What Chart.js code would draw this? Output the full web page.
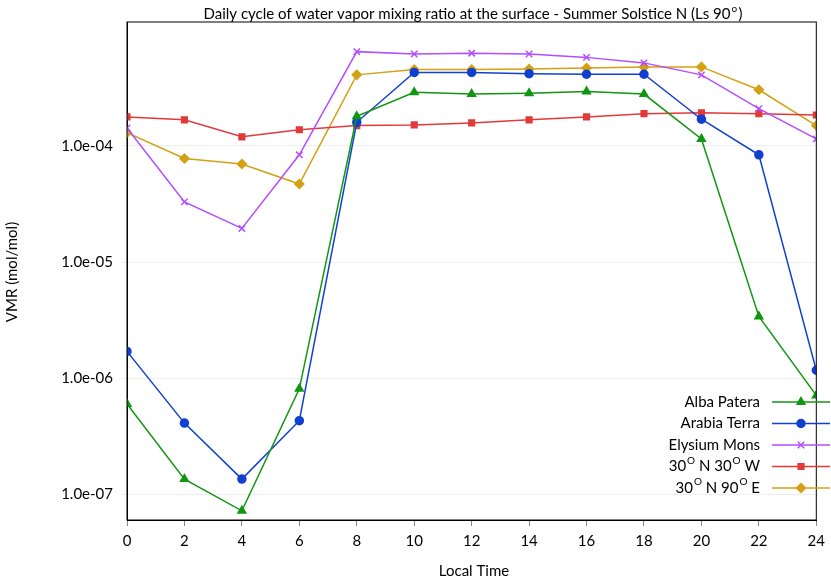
<!DOCTYPE html><html><head><meta charset="utf-8">
<script src="https://cdn.jsdelivr.net/npm/chart.js@4"></script>
<style>html,body{margin:0;padding:0;background:#fff}#w{width:831px;height:582px}</style></head>
<body><div id="w"><canvas id="c"></canvas></div><script>
const hours=[0,2,4,6,8,10,12,14,16,18,20,22,24];
const seriesNames=['Alba Patera','Arabia Terra','Elysium Mons','30| N 30| W','30| N 90| E'];
const alba=[6e-7,1.35e-7,7.2e-8,8.1e-7,1.8e-4,2.9e-4,2.8e-4,2.85e-4,2.95e-4,2.8e-4,1.15e-4,3.4e-6,7.1e-7];
const arabia=[1.7e-6,4.1e-7,1.35e-7,4.3e-7,1.6e-4,4.3e-4,4.3e-4,4.2e-4,4.15e-4,4.15e-4,1.7e-4,8.4e-5,1.17e-6];
const elysium=[1.43e-4,3.3e-5,1.95e-5,8.4e-5,6.5e-4,6.2e-4,6.3e-4,6.2e-4,5.8e-4,5.2e-4,4.1e-4,2.1e-4,1.15e-4];
const n30w30=[1.78e-4,1.68e-4,1.2e-4,1.38e-4,1.5e-4,1.52e-4,1.58e-4,1.68e-4,1.78e-4,1.9e-4,1.93e-4,1.9e-4,1.85e-4];
const n30e90=[1.3e-4,7.8e-5,7e-5,4.7e-5,4.1e-4,4.55e-4,4.55e-4,4.6e-4,4.7e-4,4.8e-4,4.8e-4,3.05e-4,1.5e-4];
const yTicks=[1e-7,1e-6,1e-5,1e-4];
const xTicks=[0,2,4,6,8,10,12,14,16,18,20,22,24];
const colors=['#119611','#1040d0','#b44cff','#e23a3a','#d4a014'];
const styles=['triangle','circle','crossRot','rect','rectRot'];
const radii=[4.5,4,4.5,4,4.5];
const vals=[alba,arabia,elysium,n30w30,n30e90];
const F='Lato, "Open Sans", sans-serif';
function supText(ctx,str,x,y){
  const parts=str.split('|');ctx.textBaseline='middle';
  const big='15px '+F,small='10px '+F;
  let w=0;parts.forEach((p,i)=>{ctx.font=big;w+=ctx.measureText(p).width;if(i<parts.length-1){ctx.font=small;w+=ctx.measureText('O').width+1;}});
  let cx=x-w;ctx.textAlign='left';
  parts.forEach((p,i)=>{ctx.font=big;ctx.fillText(p,cx,y);cx+=ctx.measureText(p).width;if(i<parts.length-1){ctx.font=small;ctx.fillText('O',cx+1,y-6);cx+=ctx.measureText('O').width+1;}});
}
const ds=vals.map((v,i)=>({label:seriesNames[i],data:hours.map((h,j)=>({x:h,y:v[j]})),borderColor:colors[i],backgroundColor:colors[i],borderWidth:1.5,pointStyle:styles[i],pointRadius:radii[i],pointBorderWidth:1.5,tension:0}));
Chart.defaults.font.family=F;
new Chart(document.getElementById('c'),{type:'line',data:{datasets:ds},
options:{responsive:true,maintainAspectRatio:false,animation:false,
layout:{padding:{top:22,right:11,left:0,bottom:0}},
plugins:{legend:{display:false},tooltip:{enabled:false}},
scales:{
x:{type:'linear',min:0,max:24,afterBuildTicks:s=>{s.ticks=xTicks.map(v=>({value:v}))},
 ticks:{color:'#000',font:{size:15},padding:6},grid:{drawOnChartArea:false,tickLength:6,color:'#888'},border:{color:'#000'},
 afterFit:s=>{s.height=62}},
y:{type:'logarithmic',min:6.05e-8,max:1.17e-3,afterBuildTicks:s=>{s.ticks=yTicks.map(v=>({value:v}))},
 ticks:{color:'#000',font:{size:15},padding:8,callback:v=>{const e=Math.round(Math.log10(v));return '1.0e-'+String(-e).padStart(2,'0');}},
 grid:{color:'#eee',tickLength:6,borderDash:[2,2]},border:{color:'#000'},afterFit:s=>{s.width=127}}
}},plugins:[{id:'deco',afterDraw(ch){const c=ch.ctx;
  const a=ch.chartArea;c.save();c.strokeStyle='#000';c.lineWidth=1;c.strokeRect(a.left,a.top,a.right-a.left,a.bottom-a.top);
  c.fillStyle='#000';c.font='15px '+F;c.textBaseline='middle';
  const t='Daily cycle of water vapor mixing ratio at the surface - Summer Solstice N (Ls 90';
  const tw=c.measureText(t).width;const x0=473-tw/2-6;c.textAlign='left';c.fillText(t,x0,14);
  c.font='10px '+F;c.fillText('o',x0+tw+1,9);c.font='15px '+F;c.fillText(')',x0+tw+8,14);
  c.textAlign='center';c.fillText('Local Time',474,571);
  c.save();c.translate(12,272);c.rotate(-Math.PI/2);c.fillText('VMR (mol/mol)',0,0);c.restore();
  seriesNames.forEach((n,i)=>{const y=402+i*21.5;c.fillStyle='#000';supText(c,n,760,y);
    c.strokeStyle=colors[i];c.fillStyle=colors[i];c.lineWidth=1.5;c.beginPath();c.moveTo(772,y);c.lineTo(830,y);c.stroke();
    Chart.helpers.drawPoint(c,{pointStyle:styles[i],radius:radii[i],borderWidth:1.5},801,y);});
  c.restore();}}]});
</script></body></html>
